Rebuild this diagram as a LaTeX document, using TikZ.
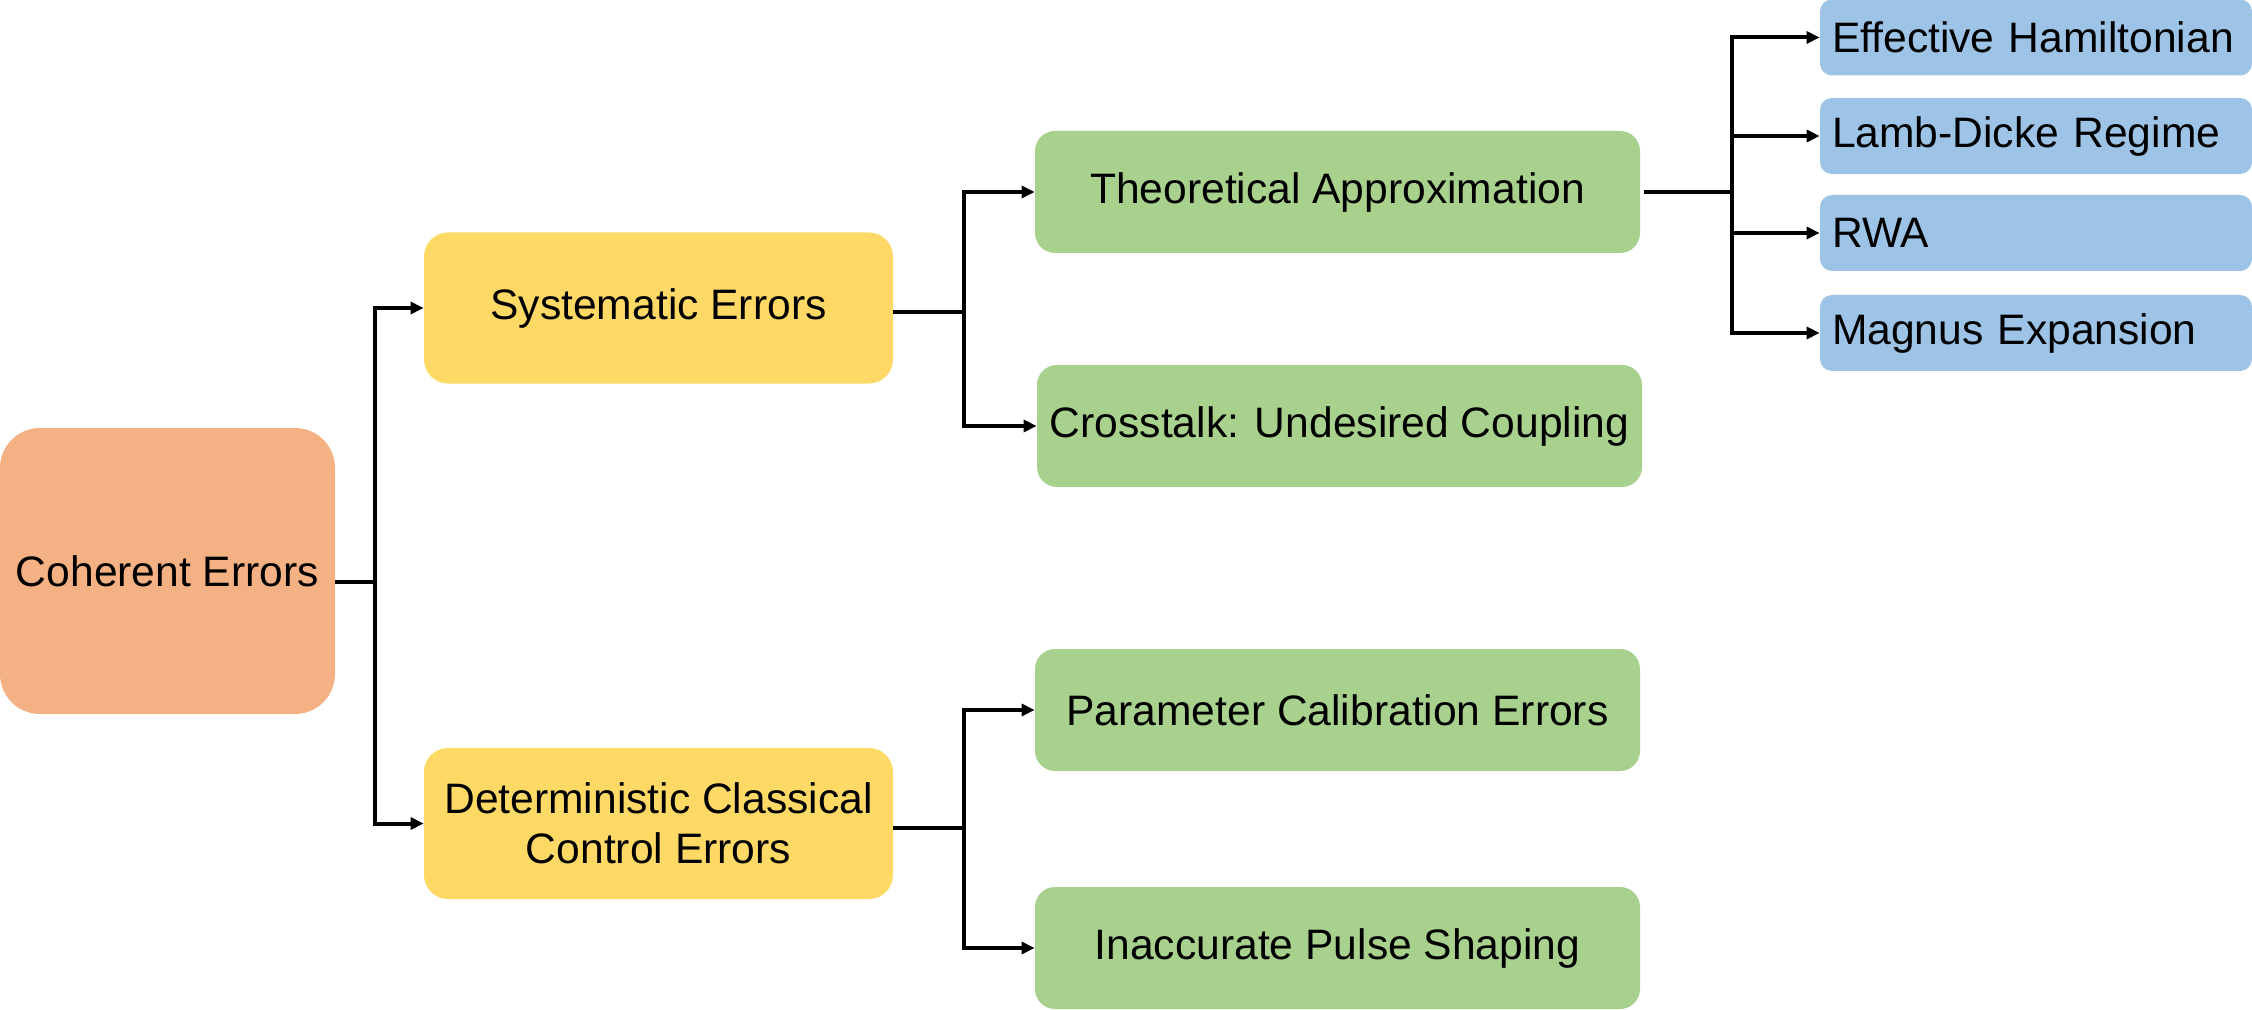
\documentclass[tikz,border=0pt]{standalone}
\usepackage{fontspec}
\setmainfont{Liberation Sans}
\usetikzlibrary{arrows.meta}
\definecolor{cohfill}{HTML}{F4B183}
\definecolor{sysfill}{HTML}{FFD966}
\definecolor{subfill}{HTML}{A9D18E}
\definecolor{leaffill}{HTML}{9DC3E6}

\begin{document}
\begin{tikzpicture}[x=0.5pt,y=-0.5pt,
  base/.style={inner sep=0pt, font=\fontsize{21.3}{25}\selectfont, align=center, text=black},
  rootbox/.style={base, fill=cohfill, minimum width=167.5pt, minimum height=143pt, rounded corners=20pt},
  midbox/.style={base, fill=sysfill, minimum width=234.5pt, minimum height=75.5pt, rounded corners=12pt},
  subbox/.style={base, fill=subfill, minimum width=302.5pt, minimum height=61pt, rounded corners=10pt},
  leafbox/.style={base, fill=leaffill, text width=204pt, inner xsep=6pt, minimum height=38pt, align=left, rounded corners=6pt},
  link/.style={line width=2pt, draw=black},
  arr/.style={link, -{Triangle[length=6.5pt,width=6pt]}}
]
\useasboundingbox[fill=white] (0,0) rectangle (2252,1010);

% boxes
\node[rootbox] (coh) at (167.5,571) {Coherent Errors};
\node[midbox] (sys) at (658.5,308) {Systematic Errors};
\node[midbox] (det) at (658.5,823.5) {Deterministic Classical\\Control Errors};
\node[subbox] (theo) at (1337.5,192) {Theoretical Approximation};
\node[subbox] (cross) at (1339.5,426) {Crosstalk: Undesired Coupling};
\node[subbox] (param) at (1337.5,710) {Parameter Calibration Errors};
\node[subbox] (pulse) at (1337.5,948) {Inaccurate Pulse Shaping};
\node[leafbox] (eff) at (2036,37.5) {Effective Hamiltonian};
\node[leafbox] (lamb) at (2036,136) {Lamb-Dicke Regime};
\node[leafbox] (rwa) at (2036,233) {RWA};
\node[leafbox] (mag) at (2036,333) {Magnus Expansion};

% connectors
\draw[link] ([yshift=-5.5pt]coh.east) -- (375,582) coordinate (t1);
\draw[arr] (t1) |- (sys.west);
\draw[arr] (t1) |- (det.west);

\draw[link] ([yshift=-2pt]sys.east) -- ++(71,0) coordinate (t2);
\draw[arr] (t2) |- (theo.west);
\draw[arr] (t2) |- (cross.west);

\draw[link] ([yshift=-2pt]det.east) -- ++(71,0) coordinate (t3);
\draw[arr] (t3) |- (param.west);
\draw[arr] (t3) |- (pulse.west);

\draw[link] ([xshift=2pt]theo.east) -- ++(88,0) coordinate (t4);
\draw[arr] (t4) |- (eff.west);
\draw[arr] (t4) |- (lamb.west);
\draw[arr] (t4) |- (rwa.west);
\draw[arr] (t4) |- (mag.west);
\end{tikzpicture}
\end{document}
